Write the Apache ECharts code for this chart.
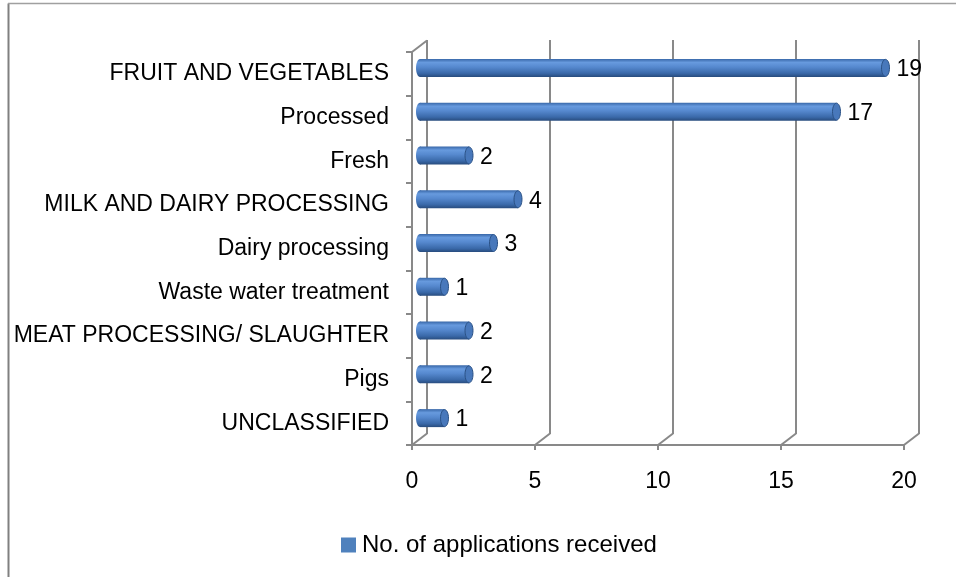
<!DOCTYPE html>
<html>
<head>
<meta charset="utf-8">
<script src="https://cdn.jsdelivr.net/npm/echarts@6/dist/echarts.min.js"></script>
<style>
  html, body { margin: 0; padding: 0; background: #fff; }
  #main { width: 956px; height: 577px; }
</style>
</head>
<body>
<div id="main"></div>
<script>
var categories = [
  'FRUIT AND VEGETABLES',
  'Processed',
  'Fresh',
  'MILK AND DAIRY PROCESSING',
  'Dairy processing',
  'Waste water treatment',
  'MEAT PROCESSING/ SLAUGHTER',
  'Pigs',
  'UNCLASSIFIED'
];
var applications = [19, 17, 2, 4, 3, 1, 2, 2, 1];
var xTicks = [0, 5, 10, 15, 20];
var seriesName = 'No. of applications received';

var chart = echarts.init(document.getElementById('main'));
var font = 'Liberation Sans';
var lineColor = '#898989';

// depth of the fake 3d wall
var depthX = 15, depthY = -11.5;

var barData = applications.map(function (v, i) { return [v, i]; });

var option = {
  animation: false,
  backgroundColor: '#fff',
  textStyle: { fontFamily: font },
  graphic: [
    { type: 'line', shape: { x1: 8.5, y1: 3.5, x2: 8.5, y2: 600 }, style: { stroke: '#808080', lineWidth: 2 } },
    { type: 'line', shape: { x1: 8, y1: 3.5, x2: 960, y2: 3.5 }, style: { stroke: '#a0a0a0', lineWidth: 1.5 } }
  ],
  legend: {
    data: [seriesName],
    left: 336,
    top: 528,
    icon: 'rect',
    itemWidth: 15,
    itemHeight: 15,
    itemGap: 4,
    textStyle: { fontSize: 24, color: '#000', fontFamily: font, padding: [0, 0, 0, 1] }
  },
  grid: [
    // front
    { left: 412, top: 52, width: 492, height: 393 },
    // back wall
    { left: 427, top: 40, width: 492, height: 394 },
    // bars (middle depth)
    { left: 420, top: 46, width: 490, height: 394 }
  ],
  xAxis: [
    {
      gridIndex: 0, type: 'value', min: 0, max: 20, interval: 5,
      axisLine: { show: true, lineStyle: { color: lineColor, width: 2 } },
      axisTick: { show: true, length: 5, lineStyle: { color: lineColor, width: 2 } },
      axisLabel: { fontSize: 23, color: '#000', margin: 25, fontFamily: font },
      splitLine: { show: false }
    },
    {
      gridIndex: 1, type: 'value', min: 0, max: 20, interval: 5,
      axisLine: { show: false }, axisTick: { show: false }, axisLabel: { show: false },
      splitLine: { show: true, lineStyle: { color: lineColor, width: 2 } }
    },
    {
      gridIndex: 2, type: 'value', min: 0, max: 20, show: false
    }
  ],
  yAxis: [
    {
      gridIndex: 0, type: 'category', data: categories, inverse: true,
      axisLine: { show: true, lineStyle: { color: lineColor, width: 2 } },
      axisTick: { show: true, length: 6, lineStyle: { color: lineColor, width: 2 } },
      axisLabel: { fontSize: 23, color: '#000', margin: 23, fontFamily: font }
    },
    { gridIndex: 1, type: 'category', data: categories, inverse: true, show: false },
    { gridIndex: 2, type: 'category', data: categories, inverse: true, show: false }
  ],
  series: [
    {
      // diagonal edges joining the front axes with the back wall
      type: 'custom',
      name: 'edges',
      xAxisIndex: 0,
      yAxisIndex: 0,
      silent: true,
      data: xTicks,
      renderItem: function (params, api) {
        var cs = params.coordSys;
        var x = api.coord([api.value(0), 0])[0];
        var yb = cs.y + cs.height;
        var kids = [{
          type: 'line',
          shape: { x1: x, y1: yb, x2: x + depthX, y2: yb + depthY },
          style: { stroke: lineColor, lineWidth: 2 }
        }];
        if (params.dataIndex === 0) {
          kids.push({
            type: 'line',
            shape: { x1: cs.x, y1: cs.y, x2: cs.x + depthX, y2: cs.y + depthY },
            style: { stroke: lineColor, lineWidth: 2 }
          });
        }
        return { type: 'group', children: kids };
      }
    },
    {
      type: 'custom',
      name: seriesName,
      xAxisIndex: 2,
      yAxisIndex: 2,
      itemStyle: { color: '#4f81bd' },
      data: barData,
      encode: { x: 0, y: 1 },
      renderItem: function (params, api) {
        var start = api.coord([0, api.value(1)]);
        var end = api.coord([api.value(0), api.value(1)]);
        var h = 18, rx = 4;
        var y0 = start[1] - h / 2;
        var grad = new echarts.graphic.LinearGradient(0, 0, 0, 1, [
          { offset: 0, color: '#3867a8' },
          { offset: 0.2, color: '#679ade' },
          { offset: 0.45, color: '#5689cf' },
          { offset: 0.8, color: '#3a69a9' },
          { offset: 1, color: '#284c7e' }
        ]);
        return {
          type: 'group',
          children: [
            {
              type: 'ellipse',
              shape: { cx: start[0], cy: start[1], rx: rx, ry: h / 2 },
              style: { fill: grad }
            },
            {
              type: 'rect',
              shape: { x: start[0], y: y0, width: end[0] - start[0], height: h },
              style: { fill: grad }
            },
            {
              type: 'ellipse',
              shape: { cx: end[0], cy: end[1], rx: rx, ry: h / 2 - 0.5 },
              style: { fill: '#4878bb', stroke: '#2b5286', lineWidth: 1 }
            },
            {
              type: 'text',
              style: {
                text: String(api.value(0)),
                x: end[0] + 11,
                y: end[1] + 2,
                verticalAlign: 'middle',
                fontSize: 23,
                fontFamily: font,
                fill: '#000'
              }
            }
          ]
        };
      }
    }
  ]
};

chart.setOption(option);
</script>
</body>
</html>
